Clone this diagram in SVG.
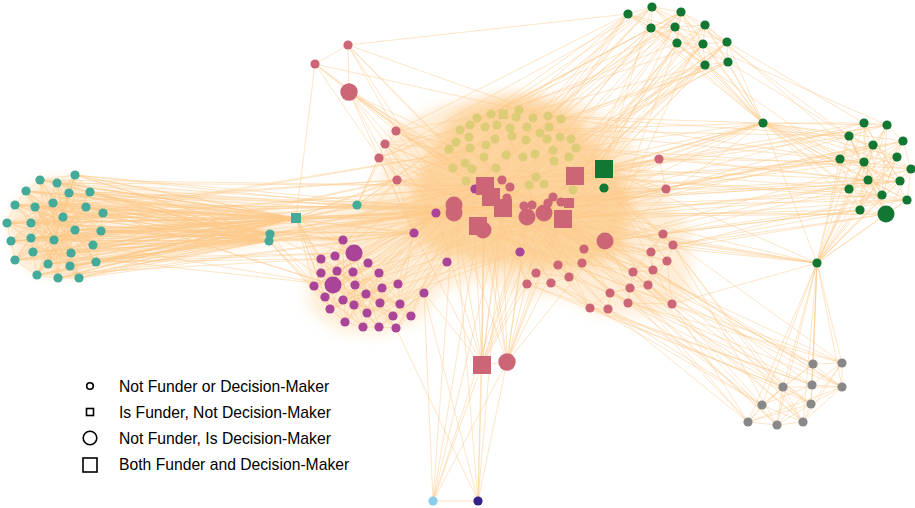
<svg xmlns="http://www.w3.org/2000/svg" width="915" height="508" viewBox="0 0 915 508">
<style>
.e{fill:none;stroke:#FCC98A;stroke-opacity:0.55;stroke-width:0.9;stroke-linejoin:round}
.ef{fill:#FDD49E;stroke:none}
.teal{fill:#44AA99}.green{fill:#117733}.sand{fill:#DDCC77}.rose{fill:#CC6677}.purple{fill:#AA4499}.gray{fill:#888888}
.lg{fill:#fff;stroke:#000;stroke-width:1.6}
text{font-family:"Liberation Sans",Arial,sans-serif;font-size:15.7px;fill:#000}
</style>
<defs>
<filter id="soft" x="-30%" y="-30%" width="160%" height="160%"><feGaussianBlur stdDeviation="7"/></filter>
<filter id="soft2" x="-30%" y="-30%" width="160%" height="160%"><feGaussianBlur stdDeviation="4"/></filter>
</defs>
<rect width="915" height="508" fill="#fff"/>
<g id="connectors">
<path class="ef" opacity="0.4" filter="url(#soft)" d="M390 130 L440 105 L520 92 L590 105 L630 140 L660 190 L690 230 L690 300 L650 315 L600 315 L560 295 L520 295 L480 280 L440 290 L420 320 L380 335 L340 332 L310 310 L305 270 L320 240 L360 215 L380 180 Z"/>
<path class="ef" opacity="0.45" filter="url(#soft2)" d="M40 180 L75 175 L90 192 L103 213 L101 231 L96 262 L79 278 L58 278 L37 275 L15 260 L11 241 L7 223 L15 205 L26 191 Z"/>
<path class="ef" opacity="0.3" filter="url(#soft2)" d="M95 182 C170 187 240 200 296 212 L360 200 L420 205 L420 235 L340 240 L270 245 C200 255 150 263 95 270 Z"/>
<path class="ef" opacity="1" filter="url(#soft)" d="M440 135 C450 108 485 98 518 98 C555 100 582 115 590 140 L610 160 L628 185 L632 220 L622 250 L595 265 L560 270 L520 268 L480 262 L440 255 L415 238 L408 205 L420 170 Z"/>
<path class="e" d="M75 175 L63 217 L37 275 L90 192 L33 252 L101 231 L15 205 L70 266 L57 183 L79 278 L7 223 L86 207 L48 264 L40 180 L96 262 L11 241 L69 193 L58 278 L26 191 L93 245 L31 223 L103 213 L15 260 L53 203 L71 253 L35 207 L75 230 L31 238 L54 240 L75 175"/>
<path class="e" d="M57 183 L71 253 L15 205 L101 231 L48 264 L75 175 L11 241 L103 213 L58 278 L40 180 L93 245 L7 223 L90 192 L37 275 L86 207 L33 252 L69 193 L15 260 L63 217 L96 262 L26 191 L79 278 L35 207 L70 266 L31 223 L53 203 L54 240 L75 230 L31 238 L57 183"/>
<path class="e" d="M69 193 L37 275 L103 213 L35 207 L96 262 L40 180 L70 266 L7 223 L93 245 L57 183 L31 238 L101 231 L48 264 L90 192 L31 223 L79 278 L15 205 L86 207 L54 240 L75 175 L15 260 L75 230 L26 191 L71 253 L53 203 L58 278 L63 217 L11 241 L69 193"/>
<path class="e" d="M53 203 L79 278 L40 180 L101 231 L11 241 L90 192 L15 260 L86 207 L31 223 L96 262 L63 217 L26 191 L70 266 L75 175 L33 252 L103 213 L7 223 L54 240 L69 193 L48 264 L57 183 L93 245 L35 207 L71 253 L15 205 L75 230 L37 275 L31 238 L58 278 L53 203"/>
<path class="e" d="M40 180 L75 175 L90 192 L103 213 L101 231 L96 262 L79 278 L58 278 L37 275 L15 260 L11 241 L7 223 L15 205 L26 191 Z"/>
<path class="e" d="M296 218 L75 175 L270 234 L40 180 L296 218 L57 183 L269 241 L26 191 L296 218 L69 193 L270 234 L90 192 L296 218 L15 205 L269 241 L35 207 L296 218 L53 203 L270 234 L86 207 L296 218 L103 213 L269 241 L63 217 L296 218 L7 223 L270 234 L31 223 L296 218 L75 230 L269 241 L101 231 L296 218 L11 241 L270 234 L31 238 L296 218 L54 240 L269 241 L93 245 L296 218 L33 252 L270 234 L71 253 L296 218 L15 260 L269 241 L48 264 L296 218 L70 266 L270 234 L96 262 L296 218 L37 275 L269 241 L58 278 L296 218 L79 278"/>
<path class="e" d="M270 234 L75 175 L296 218 L40 180 L269 241 L57 183 L296 218 L26 191 L270 234 L69 193 L269 241 L90 192 L270 234 L15 205 L296 218 L35 207 L269 241 L53 203 L296 218 L86 207 L270 234 L103 213 L296 218 L63 217 L269 241 L7 223 L296 218 L31 223 L270 234 L75 230 L296 218 L101 231 L269 241 L11 241 L296 218 L31 238 L270 234 L54 240 L296 218 L93 245 L269 241 L33 252 L296 218 L71 253 L270 234 L15 260 L296 218 L48 264 L269 241 L70 266 L296 218 L96 262 L270 234 L37 275 L296 218 L58 278 L269 241 L79 278"/>
<path class="e" d="M357 205 L75 175 L454 209 L40 180 L485 186 L57 183 L436 213 L26 191 L414 233 L69 193 L357 205 L90 192 L503 208 L15 205 L397 180 L35 207 L343 240 L53 203 L454 209 L86 207 L333 285 L103 213 L470 150 L63 217 L357 205 L7 223 L485 186 L31 223 L436 213 L75 230 L414 233 L101 231 L343 240 L11 241 L454 209 L31 238 L357 205 L54 240 L503 208 L93 245 L333 285 L33 252 L414 233 L71 253 L397 180 L15 260 L354 253 L48 264 L454 209 L70 266 L436 213 L96 262 L321 259 L37 275 L357 205 L58 278 L414 233 L79 278 L485 186"/>
<path class="e" d="M296 218 L454 209 M296 218 L485 186 M296 218 L503 208 M296 218 L436 213 M296 218 L470 150 M296 218 L527 217 M296 218 L397 180 M296 218 L563 219 M270 234 L454 209 M270 234 L485 186 M270 234 L436 213 M269 241 L454 209 M269 241 L503 208 M357 205 L454 209 M357 205 L485 186 M357 205 L503 208 M357 205 L527 217 M357 205 L470 150 M357 205 L436 213 M357 205 L460 130 M357 205 L544 213"/>
<path class="e" d="M296 218 L343 240 L270 234 L321 259 L296 218 L314 286 L269 241 L333 285 L296 218 L325 297 L270 234 L354 253 L296 218 L330 309 L269 241 L345 322 L296 218 L363 327"/>
<path class="e" d="M343 240 L368 263 L379 273 L398 284 L400 304 L411 316 L396 328 L379 327 L363 327 L345 322 L330 309 L325 297 L314 286 L321 273 L321 259 L335 256 L343 240"/>
<path class="e" d="M343 240 L333 285 L400 304 L321 259 L367 313 L398 284 L321 273 L379 327 L354 253 L330 309 L382 288 L335 256 L396 328 L353 272 L325 297 L411 316 L368 263 L314 286 L363 327 L379 273 L343 300 L393 316 L337 271 L354 305 L355 285 L345 322 L366 294 L380 303 L343 240"/>
<path class="e" d="M354 253 L333 285 L368 263 L325 297 L379 273 L330 309 L398 284 L345 322 L343 240 L367 313 L335 256 L380 303 L321 259 L379 327 L321 273 L396 328 L337 271 L411 316 L353 272 L363 327 L314 286 L400 304 L355 285 L354 305 L382 288 L343 300 L366 294 L393 316 L354 253"/>
<path class="e" d="M343 240 L454 209 L354 253 L485 186 L368 263 L436 213 L379 273 L503 208 L398 284 L414 233 L400 304 L454 209 L411 316 L485 186 L396 328 L447 262 L379 327 L527 217 L363 327 L436 213 L345 322 L454 209 L330 309 L414 233 L325 297 L485 186 L314 286 L436 213 L321 273 L454 209 L321 259 L397 180 L335 256 L470 150 L333 285 L503 208 L353 272 L563 219 L355 285 L483 229 L382 288 L454 209 L366 294 L520 252 L380 303 L485 186 L393 316 L424 293 L367 313 L447 262 L343 300 L436 213 L354 305 L414 233 L337 271 L485 186"/>
<path class="e" d="M348 45 L315 64 M348 45 L349 92 M348 45 L454 209 M348 45 L485 186 M348 45 L548 116 M348 45 L465 163 M348 45 L396 131 M348 45 L628 14 M315 64 L296 218 M315 64 L349 92 M315 64 L379 158 M315 64 L485 186 M315 64 L561 119 M315 64 L503 208 M349 92 L454 209 M349 92 L485 186 M349 92 L503 208 M349 92 L527 217 M349 92 L436 213 M349 92 L470 150 M349 92 L544 213 M349 92 L563 219 M349 92 L397 180 M349 92 L396 131 M349 92 L414 233"/>
<path class="e" d="M396 131 L454 209 L385 144 L485 186 L379 158 L503 208 L397 180 L527 217 L396 131 L470 150 L385 144 L460 130 L379 158 L454 209 L397 180 L485 186 L396 131 L563 219 L385 144 L436 213 L379 158 L575 176 L397 180 L544 213 L396 131 L492 114 L379 158 L414 233 L385 144 L357 205 L396 131 M379 158 L357 205"/>
<path class="e" d="M628 14 L454 209 L652 7 L485 186 L681 12 L503 208 L651 28 L460 130 L675 27 L527 217 L705 25 L544 213 L677 43 L563 219 L703 44 L575 176 L727 42 L604 169 L705 65 L510 140 L728 62 L470 150 L628 14 L540 130 L652 7 L492 114 L681 12 L548 116 L651 28 L436 213 L675 27 L483 229 L705 25 L605 241 L677 43 L520 252 L703 44 L575 148 L727 42 L530 185 L705 65 L454 209 L728 62 L485 186 L628 14 L503 208 L651 28 L563 219 L677 43 L460 130 L705 65 L527 217 L703 44 L492 114 L681 12 L604 169 L652 7 L470 150 L675 27 L544 213 L727 42 L575 176"/>
<path class="e" d="M628 14 L396 131 M652 7 L379 158 M681 12 L414 233 M628 14 L357 205"/>
<path class="e" d="M628 14 L652 7 L681 12 L705 25 L727 42 L728 62 L705 65 L677 43 L651 28 L628 14 L675 27 L652 7 L651 28 L681 12 L675 27 L705 25 L703 44 L727 42 L705 65 L703 44 L677 43 L675 27 L651 28 L677 43 L705 25 L728 62 L703 44 L681 12 L677 43 L705 65 L675 27 L727 42 L652 7 L703 44 L628 14 L677 43 L681 12 L705 65 L651 28 L728 62"/>
<path class="e" d="M763 123 L628 14 M763 123 L652 7 M763 123 L681 12 M763 123 L651 28 M763 123 L675 27 M763 123 L705 25 M763 123 L677 43 M763 123 L703 44 M763 123 L727 42 M763 123 L705 65 M763 123 L728 62 M727 42 L864 123 M728 62 L849 136 M705 65 L840 159 M703 44 L887 125 M705 25 L864 162 M681 12 L849 136"/>
<path class="e" d="M763 123 L864 123 M763 123 L887 125 M763 123 L849 136 M763 123 L903 141 M763 123 L873 145 M763 123 L840 159 M763 123 L864 162 M763 123 L897 157 M763 123 L911 169 M763 123 L868 180 M763 123 L900 181 M763 123 L849 189 M763 123 L882 195 M763 123 L907 200 M763 123 L860 210 M763 123 L886 214"/>
<path class="e" d="M763 123 L604 169 M763 123 L575 176 M763 123 L563 219 M763 123 L527 217 M763 123 L485 186 M763 123 L454 209 M763 123 L548 116 M763 123 L575 148 M763 123 L605 241 M763 123 L659 159 M763 123 L540 130 M763 123 L503 208 M763 123 L817 263"/>
<path class="e" d="M864 123 L887 125 L903 141 L911 169 L907 200 L886 214 L860 210 L849 189 L840 159 L849 136 L864 123"/>
<path class="e" d="M864 123 L864 162 L882 195 L887 125 L873 145 L849 189 L903 141 L868 180 L886 214 L849 136 L897 157 L860 210 L911 169 L840 159 L900 181 L864 123"/>
<path class="e" d="M887 125 L849 136 L911 169 L849 189 L907 200 L873 145 L860 210 L864 162 L903 141 L840 159 L886 214 L864 123 L868 180 L897 157 L882 195 L849 136"/>
<path class="e" d="M873 145 L840 159 L864 123 L900 181 L849 189 L887 125 L860 210 L903 141 L882 195 L864 162 L907 200 L868 180 L849 136 L886 214 L911 169 L897 157"/>
<path class="e" d="M864 123 L604 169 L887 125 L575 176 L849 136 L563 219 L903 141 L544 213 L873 145 L527 217 L840 159 L503 208 L864 162 L485 186 L897 157 L605 241 L911 169 L575 148 L868 180 L454 209 L900 181 L604 169 L849 189 L563 219 L882 195 L575 176 L907 200 L605 241 L860 210 L527 217 L886 214 L544 213 L864 123"/>
<path class="e" d="M840 159 L548 116 L849 136 L540 130 L864 162 L659 159 L868 180 L666 189 L849 189 L663 234 L860 210 L673 245 L886 214 L651 252 L882 195 L503 208 L907 200 L483 229 L900 181 L454 209"/>
<path class="e" d="M817 263 L864 123 M817 263 L849 136 M817 263 L840 159 M817 263 L864 162 M817 263 L868 180 M817 263 L849 189 M817 263 L882 195 M817 263 L860 210 M817 263 L886 214 M817 263 L907 200 M817 263 L900 181 M817 263 L873 145 M817 263 L897 157 M817 263 L887 125 M817 263 L911 169 M817 263 L903 141"/>
<path class="e" d="M817 263 L813 364 M817 263 L842 363 M817 263 L783 387 M817 263 L812 385 M817 263 L842 387 M817 263 L811 404 M817 263 L762 405 M817 263 L748 422 M817 263 L777 425 M817 263 L803 422 M817 263 L605 241 M817 263 L563 219 M817 263 L527 217 M817 263 L673 245 M817 263 L604 169 M817 263 L485 186 M817 263 L672 304 M817 263 L454 209"/>
<path class="e" d="M813 364 L842 363 L842 387 L811 404 L803 422 L777 425 L748 422 L762 405 L783 387 L813 364 L812 385 L842 363 L811 404 L783 387 L842 387 L812 385 L762 405 L803 422 L842 387 L748 422 L811 404 L777 425 L783 387 L748 422 M812 385 L777 425 M813 364 L762 405 M842 363 L803 422 M813 364 L842 387 M812 385 L811 404 M783 387 L803 422"/>
<path class="e" d="M813 364 L672 304 L842 363 L628 303 L783 387 L590 308 L812 385 L653 270 L842 387 L605 241 L811 404 L551 283 L762 405 L608 309 L748 422 L630 288 L777 425 L673 245 L803 422 L563 219 L813 364 L527 217 L842 363 L663 234 L783 387 L527 284 L812 385 L610 293 L842 387 L648 285 L811 404 L503 208 L762 405 L672 304 L748 422 L584 249 L777 425 L633 272 L803 422 L667 261"/>
<path class="e" d="M663 234 L673 245 L667 261 L653 270 L651 252 L663 234 L633 272 L648 285 L672 304 L628 303 L630 288 L610 293 L608 309 L590 308 L610 293 L648 285 L653 270 L633 272 L630 288 L672 304 L667 261 L648 285 M584 249 L582 263 L558 265 L536 273 L527 284 L551 283 L569 277 L582 263 L605 241 L584 249 L651 252 L605 241 L663 234 M558 265 L569 277 L590 308 L551 283 L536 273 L569 277 L610 293 L582 263 L633 272"/>
<path class="e" d="M663 234 L485 186 L673 245 L503 208 L651 252 L454 209 L667 261 L527 217 L653 270 L563 219 L633 272 L544 213 L648 285 L575 176 L630 288 L483 229 L628 303 L503 208 L672 304 L563 219 L610 293 L527 217 L608 309 L485 186 L590 308 L544 213 L584 249 L470 150 L582 263 L510 140 L558 265 L454 209 L536 273 L485 186 L527 284 L503 208 L551 283 L460 130 L569 277 L492 114 L663 234 L540 130 L673 245 L575 148 L667 261 L604 169 L672 304 L436 213 L653 270 L530 185 L630 288 L470 150 L648 285 L454 209"/>
<path class="e" d="M659 159 L485 186 L666 189 L503 208 L659 159 L563 219 L666 189 L454 209 M659 159 L575 176 M666 189 L604 169 M659 159 L666 189"/>
<path class="e" d="M482 365 L454 209 M482 365 L485 186 M482 365 L503 208 M482 365 L527 217 M482 365 L544 213 M482 365 L563 219 M482 365 L483 229 M482 365 L436 213 M482 365 L520 252 M482 365 L470 150 M482 365 L510 140 M482 365 L575 176 M482 365 L414 233 M482 365 L424 293 M482 365 L507 362 M507 362 L454 209 M507 362 L485 186 M507 362 L503 208 M507 362 L527 217 M507 362 L544 213 M507 362 L563 219 M507 362 L483 229 M507 362 L575 176 M507 362 L604 169 M507 362 L540 130 M507 362 L605 241 M507 362 L536 273"/>
<path class="e" d="M433 501 L478 501 M433 501 L482 365 M433 501 L507 362 M433 501 L424 293 M433 501 L485 186 M433 501 L454 209 M433 501 L503 208 M433 501 L527 217 M478 501 L482 365 M478 501 L507 362 M478 501 L424 293 M478 501 L485 186 M478 501 L503 208 M478 501 L454 209 M478 501 L396 328"/>
</g>
<g class="teal">
<g id="t1"><circle cx="75" cy="175" r="4.6"/></g><g id="t2"><circle cx="40" cy="180" r="4.6"/></g><g id="t3"><circle cx="57" cy="183" r="4.6"/></g><g id="t4"><circle cx="26" cy="191" r="4.6"/></g><g id="t5"><circle cx="69" cy="193" r="4.6"/></g><g id="t6"><circle cx="90" cy="192" r="4.6"/></g><g id="t7"><circle cx="15" cy="205" r="4.6"/></g><g id="t8"><circle cx="35" cy="207" r="4.6"/></g><g id="t9"><circle cx="53" cy="203" r="4.6"/></g><g id="t10"><circle cx="86" cy="207" r="4.6"/></g><g id="t11"><circle cx="103" cy="213" r="4.6"/></g><g id="t12"><circle cx="63" cy="217" r="4.6"/></g><g id="t13"><circle cx="7" cy="223" r="4.6"/></g><g id="t14"><circle cx="31" cy="223" r="4.6"/></g><g id="t15"><circle cx="75" cy="230" r="4.6"/></g><g id="t16"><circle cx="101" cy="231" r="4.6"/></g><g id="t17"><circle cx="11" cy="241" r="4.6"/></g><g id="t18"><circle cx="31" cy="238" r="4.6"/></g><g id="t19"><circle cx="54" cy="240" r="4.6"/></g><g id="t20"><circle cx="93" cy="245" r="4.6"/></g><g id="t21"><circle cx="33" cy="252" r="4.6"/></g><g id="t22"><circle cx="71" cy="253" r="4.6"/></g><g id="t23"><circle cx="15" cy="260" r="4.6"/></g><g id="t24"><circle cx="48" cy="264" r="4.6"/></g><g id="t25"><circle cx="70" cy="266" r="4.6"/></g><g id="t26"><circle cx="96" cy="262" r="4.6"/></g><g id="t27"><circle cx="37" cy="275" r="4.6"/></g><g id="t28"><circle cx="58" cy="278" r="4.6"/></g><g id="t29"><circle cx="79" cy="278" r="4.6"/></g>
<g id="t30"><rect x="291" y="213" width="10" height="10"/></g><g id="t31"><circle cx="357" cy="205" r="4.6"/></g><g id="t32"><circle cx="270" cy="234" r="4.6"/></g><g id="t33"><circle cx="269" cy="241" r="4.6"/></g>
</g>
<g class="sand">
<g id="s1"><circle cx="491" cy="114" r="4.6"/></g><g id="s2"><rect x="498.5" y="109.5" width="9.5" height="9.5"/></g><g id="s3"><circle cx="519" cy="110" r="4.6"/></g><g id="s4"><circle cx="477" cy="118" r="4.6"/></g><g id="s5"><circle cx="516" cy="117" r="4.6"/></g><g id="s6"><circle cx="533" cy="118" r="4.6"/></g><g id="s7"><circle cx="548" cy="116" r="4.6"/></g><g id="s8"><circle cx="561" cy="119" r="4.6"/></g><g id="s9"><circle cx="470" cy="125" r="4.6"/></g><g id="s10"><circle cx="485" cy="127" r="4.6"/></g><g id="s11"><circle cx="497" cy="125" r="4.6"/></g><g id="s12"><circle cx="510" cy="128" r="4.6"/></g><g id="s13"><circle cx="527" cy="127" r="4.6"/></g><g id="s14"><circle cx="549" cy="127" r="4.6"/></g><g id="s15"><circle cx="460" cy="130" r="4.6"/></g><g id="s16"><circle cx="512" cy="136" r="4.6"/></g><g id="s17"><circle cx="540" cy="133" r="4.6"/></g><g id="s18"><circle cx="469" cy="137" r="4.6"/></g><g id="s19"><circle cx="495" cy="139" r="4.6"/></g><g id="s20"><circle cx="526" cy="140" r="4.6"/></g><g id="s21"><circle cx="547" cy="139" r="4.6"/></g><g id="s22"><circle cx="560" cy="137" r="4.6"/></g><g id="s23"><circle cx="571" cy="139" r="4.6"/></g><g id="s24"><circle cx="456" cy="142" r="4.6"/></g><g id="s25"><circle cx="449" cy="149" r="4.6"/></g><g id="s26"><circle cx="470" cy="148" r="4.6"/></g><g id="s27"><circle cx="486" cy="145" r="4.6"/></g><g id="s28"><circle cx="553" cy="150" r="4.6"/></g><g id="s29"><circle cx="576" cy="148" r="4.6"/></g><g id="s30"><circle cx="506" cy="155" r="4.6"/></g><g id="s31"><circle cx="523" cy="157" r="4.6"/></g><g id="s32"><circle cx="535" cy="154" r="4.6"/></g><g id="s33"><circle cx="484" cy="157" r="4.6"/></g><g id="s34"><circle cx="569" cy="157" r="4.6"/></g><g id="s35"><circle cx="554" cy="161" r="4.6"/></g><g id="s36"><circle cx="465" cy="163" r="4.6"/></g><g id="s37"><circle cx="453" cy="168" r="4.6"/></g><g id="s38"><circle cx="472" cy="169" r="4.6"/></g><g id="s39"><circle cx="496" cy="168" r="4.6"/></g><g id="s40"><circle cx="536" cy="177" r="4.6"/></g><g id="s41"><circle cx="466" cy="181" r="4.6"/></g><g id="s42"><circle cx="529" cy="185" r="4.6"/></g><g id="s43"><circle cx="544" cy="184" r="4.6"/></g><g id="s44"><circle cx="573" cy="190" r="4.6"/></g>
</g>
<g class="purple">
<g id="u1"><circle cx="343" cy="240" r="4.6"/></g><g id="u2"><circle cx="354" cy="253" r="8.5"/></g><g id="u3"><circle cx="335" cy="256" r="4.6"/></g><g id="u4"><circle cx="321" cy="259" r="4.6"/></g><g id="u5"><circle cx="368" cy="263" r="4.6"/></g><g id="u6"><circle cx="321" cy="273" r="4.6"/></g><g id="u7"><circle cx="337" cy="271" r="4.6"/></g><g id="u8"><circle cx="353" cy="272" r="4.6"/></g><g id="u9"><circle cx="379" cy="273" r="4.6"/></g><g id="u10"><circle cx="333" cy="285" r="8.5"/></g><g id="u11"><circle cx="314" cy="286" r="4.6"/></g><g id="u12"><circle cx="355" cy="285" r="4.6"/></g><g id="u13"><circle cx="398" cy="284" r="4.6"/></g><g id="u14"><circle cx="382" cy="288" r="4.6"/></g><g id="u15"><circle cx="366" cy="294" r="4.6"/></g><g id="u16"><circle cx="325" cy="297" r="4.6"/></g><g id="u17"><circle cx="343" cy="300" r="4.6"/></g><g id="u18"><circle cx="380" cy="303" r="4.6"/></g><g id="u19"><circle cx="400" cy="304" r="4.6"/></g><g id="u20"><circle cx="354" cy="305" r="4.6"/></g><g id="u21"><circle cx="330" cy="309" r="4.6"/></g><g id="u22"><circle cx="367" cy="313" r="4.6"/></g><g id="u23"><circle cx="393" cy="316" r="4.6"/></g><g id="u24"><circle cx="411" cy="316" r="4.6"/></g><g id="u25"><circle cx="345" cy="322" r="4.6"/></g><g id="u26"><circle cx="363" cy="327" r="4.6"/></g><g id="u27"><circle cx="379" cy="327" r="4.6"/></g><g id="u28"><circle cx="396" cy="328" r="4.6"/></g>
<g id="u29"><circle cx="424" cy="293" r="4.6"/></g><g id="u30"><circle cx="414" cy="233" r="4.6"/></g><g id="u31"><circle cx="436" cy="213" r="4.6"/></g><g id="u32"><circle cx="447" cy="262" r="4.6"/></g><g id="u33"><circle cx="475" cy="189" r="4.6"/></g><g id="u34"><circle cx="520" cy="252" r="4.6"/></g>
</g>
<g class="rose">
<g id="p1"><circle cx="348" cy="45" r="4.6"/></g><g id="p2"><circle cx="315" cy="64" r="4.6"/></g><g id="p3"><circle cx="349" cy="92" r="8.7"/></g><g id="p4"><circle cx="396" cy="131" r="4.6"/></g><g id="p5"><circle cx="385" cy="144" r="4.6"/></g><g id="p6"><circle cx="379" cy="158" r="4.6"/></g><g id="p7"><circle cx="397" cy="180" r="4.6"/></g><g id="p8"><circle cx="659" cy="159" r="4.6"/></g><g id="p9"><circle cx="666" cy="189" r="4.6"/></g>
<g id="p10"><rect x="473" y="356" width="18" height="18"/></g><g id="p11"><circle cx="507" cy="362" r="8.7"/></g>
<g id="p12"><circle cx="454" cy="205" r="8.5"/></g><g id="p13"><circle cx="454" cy="213" r="8.5"/></g><g id="p14"><circle cx="483" cy="230" r="8.5"/></g><g id="p15"><circle cx="527" cy="217" r="8.5"/></g><g id="p16"><circle cx="544" cy="213" r="8.5"/></g>
<g id="p17"><circle cx="502" cy="180" r="4.6"/></g><g id="p18"><circle cx="510" cy="187" r="4.6"/></g><g id="p19"><circle cx="507" cy="198" r="4.6"/></g><g id="p20"><circle cx="524" cy="206" r="4.6"/></g><g id="p21"><circle cx="532" cy="205" r="4.6"/></g><g id="p22"><circle cx="548" cy="203" r="4.6"/></g><g id="p23"><circle cx="553" cy="197" r="4.6"/></g><g id="p24"><circle cx="561" cy="202" r="4.6"/></g>
<g id="p25"><rect x="476" y="177" width="18" height="18"/></g><g id="p26"><rect x="482" y="188" width="18" height="18"/></g><g id="p27"><rect x="494" y="199" width="18" height="18"/></g><g id="p28"><rect x="469" y="217" width="18" height="18"/></g><g id="p29"><rect x="554" y="210" width="18" height="18"/></g><g id="p30"><rect x="566" y="167" width="18" height="18"/></g><g id="p31"><rect x="564" y="198" width="10" height="10"/></g>
<g id="p32"><circle cx="605" cy="241" r="8.5"/></g><g id="p33"><circle cx="663" cy="234" r="4.6"/></g><g id="p34"><circle cx="673" cy="245" r="4.6"/></g><g id="p35"><circle cx="584" cy="249" r="4.6"/></g><g id="p36"><circle cx="651" cy="252" r="4.6"/></g><g id="p37"><circle cx="667" cy="261" r="4.6"/></g><g id="p38"><circle cx="582" cy="263" r="4.6"/></g><g id="p39"><circle cx="558" cy="265" r="4.6"/></g><g id="p40"><circle cx="536" cy="273" r="4.6"/></g><g id="p41"><circle cx="569" cy="277" r="4.6"/></g><g id="p42"><circle cx="633" cy="272" r="4.6"/></g><g id="p43"><circle cx="653" cy="270" r="4.6"/></g><g id="p44"><circle cx="527" cy="284" r="4.6"/></g><g id="p45"><circle cx="551" cy="283" r="4.6"/></g><g id="p46"><circle cx="630" cy="288" r="4.6"/></g><g id="p47"><circle cx="648" cy="285" r="4.6"/></g><g id="p48"><circle cx="610" cy="293" r="4.6"/></g><g id="p49"><circle cx="628" cy="303" r="4.6"/></g><g id="p50"><circle cx="672" cy="304" r="4.6"/></g><g id="p51"><circle cx="590" cy="308" r="4.6"/></g><g id="p52"><circle cx="608" cy="309" r="4.6"/></g>
</g>
<g class="green">
<g id="g1"><circle cx="628" cy="14" r="4.6"/></g><g id="g2"><circle cx="652" cy="7" r="4.6"/></g><g id="g3"><circle cx="681" cy="12" r="4.6"/></g><g id="g4"><circle cx="651" cy="28" r="4.6"/></g><g id="g5"><circle cx="675" cy="27" r="4.6"/></g><g id="g6"><circle cx="705" cy="25" r="4.6"/></g><g id="g7"><circle cx="677" cy="43" r="4.6"/></g><g id="g8"><circle cx="703" cy="44" r="4.6"/></g><g id="g9"><circle cx="727" cy="42" r="4.6"/></g><g id="g10"><circle cx="705" cy="65" r="4.6"/></g><g id="g11"><circle cx="728" cy="62" r="4.6"/></g>
<g id="g12"><circle cx="763" cy="123" r="4.6"/></g><g id="g13"><circle cx="817" cy="263" r="4.6"/></g><g id="g14"><rect x="595" y="160" width="18" height="18"/></g><g id="g15"><circle cx="604" cy="188" r="4.6"/></g>
<g id="g16"><circle cx="864" cy="123" r="4.6"/></g><g id="g17"><circle cx="887" cy="125" r="4.6"/></g><g id="g18"><circle cx="849" cy="136" r="4.6"/></g><g id="g19"><circle cx="903" cy="141" r="4.6"/></g><g id="g20"><circle cx="873" cy="145" r="4.6"/></g><g id="g21"><circle cx="840" cy="159" r="4.6"/></g><g id="g22"><circle cx="864" cy="162" r="4.6"/></g><g id="g23"><circle cx="897" cy="157" r="4.6"/></g><g id="g24"><circle cx="911" cy="169" r="4.6"/></g><g id="g25"><circle cx="868" cy="180" r="4.6"/></g><g id="g26"><circle cx="900" cy="181" r="4.6"/></g><g id="g27"><circle cx="849" cy="189" r="4.6"/></g><g id="g28"><circle cx="882" cy="195" r="4.6"/></g><g id="g29"><circle cx="907" cy="200" r="4.6"/></g><g id="g30"><circle cx="860" cy="210" r="4.6"/></g><g id="g31"><circle cx="886" cy="214" r="8.5"/></g>
</g>
<g class="gray">
<g id="r1"><circle cx="813" cy="364" r="4.6"/></g><g id="r2"><circle cx="842" cy="363" r="4.6"/></g><g id="r3"><circle cx="783" cy="387" r="4.6"/></g><g id="r4"><circle cx="812" cy="385" r="4.6"/></g><g id="r5"><circle cx="842" cy="387" r="4.6"/></g><g id="r6"><circle cx="811" cy="404" r="4.6"/></g><g id="r7"><circle cx="762" cy="405" r="4.6"/></g><g id="r8"><circle cx="748" cy="422" r="4.6"/></g><g id="r9"><circle cx="777" cy="425" r="4.6"/></g><g id="r10"><circle cx="803" cy="422" r="4.6"/></g>
</g>
<g id="b1"><circle cx="433" cy="501" r="4.6" fill="#88CCEE"/></g>
<g id="b2"><circle cx="478" cy="501" r="4.6" fill="#332288"/></g>
<g id="legend">
<circle class="lg" cx="90" cy="386" r="3.3"/>
<rect class="lg" x="86.5" y="408.5" width="7" height="7"/>
<circle class="lg" cx="90" cy="438" r="6.8"/>
<rect class="lg" x="83" y="458" width="14" height="14"/>
<text x="119" y="391.5">Not Funder or Decision-Maker</text>
<text x="119" y="417.7">Is Funder, Not Decision-Maker</text>
<text x="119" y="443.9">Not Funder, Is Decision-Maker</text>
<text x="119" y="470.1">Both Funder and Decision-Maker</text>
</g>
</svg>
